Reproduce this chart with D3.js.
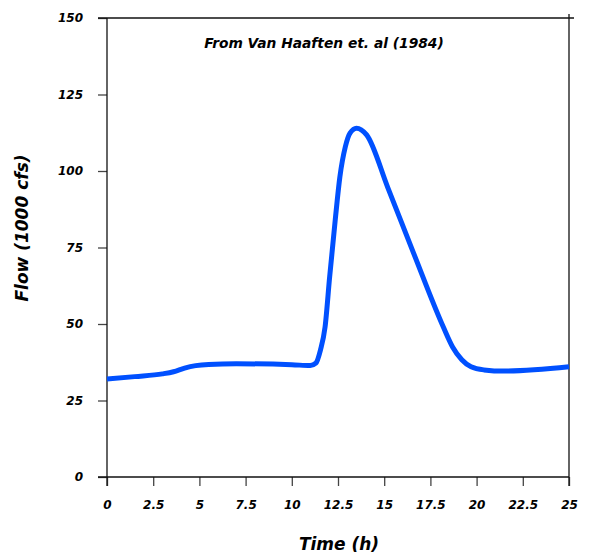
<!DOCTYPE html>
<html>
<head>
<meta charset="utf-8">
<script src="https://cdn.jsdelivr.net/npm/d3@7"></script>
<style>
  body { margin: 0; background: #fff; }
  text { font-family: 'DejaVu Sans', sans-serif; font-weight: bold; font-style: italic; }
</style>
</head>
<body>
<script>
const times = [0, 1.5, 3, 3.6, 4.2, 4.8, 5.5, 7, 10, 11, 11.3, 11.55, 11.8, 12.05, 12.35, 12.6, 12.9, 13.15, 13.5, 14.05, 15.2, 16.6, 18.2, 18.7, 19.2, 19.7, 20.4, 21.5, 25]
const flows = [32, 32.8, 33.7, 34.4, 35.6, 36.4, 36.8, 37, 36.7, 36.4, 37.2, 41.5, 49, 65.5, 84, 98, 108, 112.4, 114, 111.8, 94.5, 73, 49, 42.5, 38.3, 36, 35, 34.6, 36]
const xTicks = [0, 2.5, 5, 7.5, 10, 12.5, 15, 17.5, 20, 22.5, 25]
const yTicks = [0, 25, 50, 75, 100, 125, 150]

const data = times.map((t, i) => ({ t: t, f: flows[i] }))

const margin = { top: 18, right: 20, bottom: 77, left: 107 }
const width = 589 - margin.left - margin.right
const height = 554 - margin.top - margin.bottom
const tick = 9

const svg = d3.select('body').append('svg')
    .attr('width', 589)
    .attr('height', 554)
    .append('g')
        .attr('transform', `translate(${margin.left}, ${margin.top})`)

const xScale = d3.scaleLinear().domain([0, 25]).range([0, width])
const yScale = d3.scaleLinear().domain([0, 150]).range([height, 0])

const xAxis = svg.append('g')
    .attr('transform', `translate(0, ${height})`)
    .call(d3.axisBottom(xScale).tickValues(xTicks).tickFormat(d => d).tickSize(tick).tickPadding(14))
xAxis.select('.domain').remove()

const yAxis = svg.append('g')
    .call(d3.axisLeft(yScale).tickValues(yTicks).tickSize(tick).tickPadding(15))
yAxis.select('.domain').remove()

svg.selectAll('.tick line').style('stroke', '#444').style('stroke-width', 1.3)
svg.selectAll('.tick text').style('font-size', '12px').style('fill', '#000')
    .style('font-family', "'DejaVu Sans', sans-serif")
    .style('font-weight', 'bold').style('font-style', 'italic')

// frame lines
const frame = [
    [-tick, height, width, height],
    [0, 0, 0, height + tick],
    [-tick, 0, width + 5, 0],
    [width, -4, width, height + tick]
]
svg.selectAll('.frame')
    .data(frame)
    .enter().append('line')
    .attr('x1', d => d[0]).attr('y1', d => d[1])
    .attr('x2', d => d[2]).attr('y2', d => d[3])
    .style('stroke', '#111')
    .style('stroke-width', 1.3)

const line = d3.line()
    .x(d => xScale(d.t))
    .y(d => yScale(d.f))
    .curve(d3.curveMonotoneX)

svg.append('path')
    .datum(data)
    .attr('d', line)
    .style('fill', 'none')
    .style('stroke', '#0050ff')
    .style('stroke-width', 5)
    .style('stroke-linejoin', 'round')

svg.append('text')
    .attr('x', 217)
    .attr('y', 30)
    .style('text-anchor', 'middle')
    .style('font-size', '13.8px')
    .text('From Van Haaften et. al (1984)')

svg.append('text')
    .attr('x', width / 2 + 1)
    .attr('y', height + 73)
    .style('text-anchor', 'middle')
    .style('font-size', '17px')
    .text('Time (h)')

svg.append('text')
    .attr('transform', `translate(${-79}, ${210}) rotate(-90)`)
    .style('text-anchor', 'middle')
    .style('font-size', '17px')
    .text('Flow (1000 cfs)')
</script>
</body>
</html>
